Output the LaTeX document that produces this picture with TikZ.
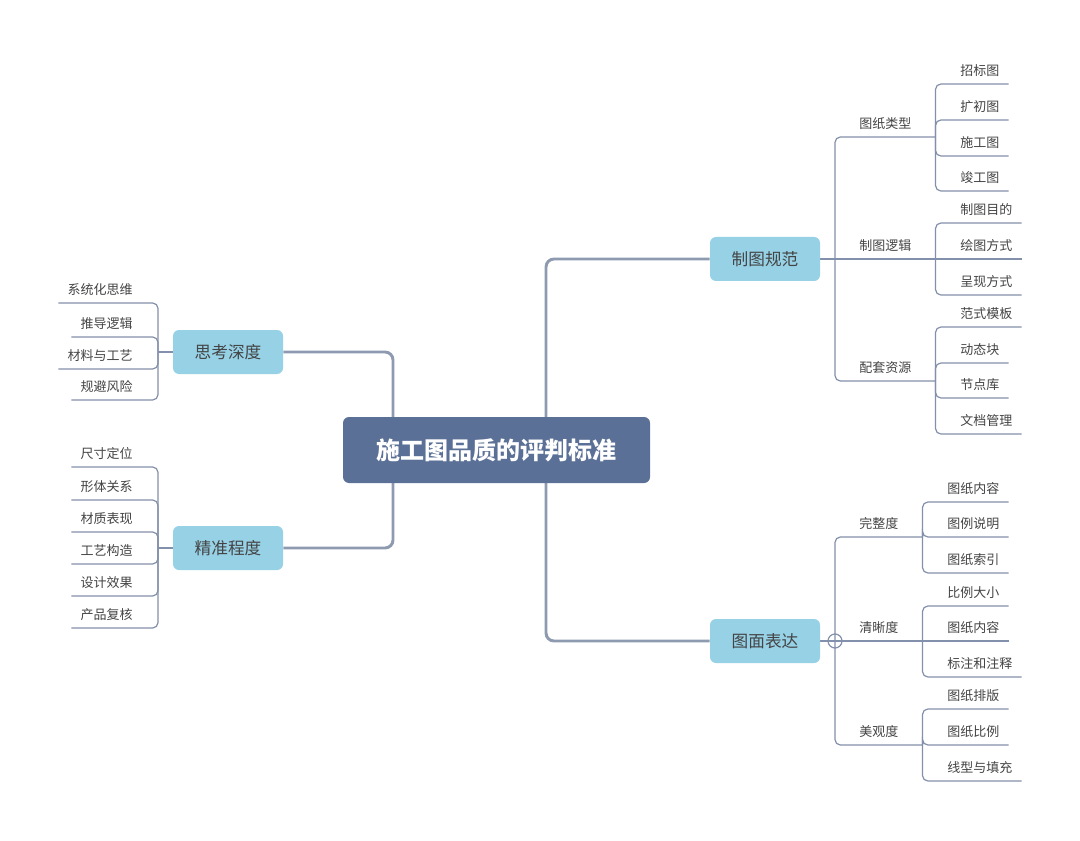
\documentclass[tikz,border=0pt]{standalone}
\usepackage{fontspec}
\setmainfont{Noto Sans CJK SC}
\usetikzlibrary{backgrounds}
\definecolor{mainfill}{HTML}{5B7096}
\definecolor{lonefill}{HTML}{96D1E6}
\definecolor{linec}{HTML}{8390AB}
\definecolor{mainline}{HTML}{8E9AB0}
\definecolor{txt}{HTML}{444444}
\begin{document}
\begin{tikzpicture}[x=0.75pt,y=-0.75pt,
 centralbox/.style={fill=mainfill, rounded corners=4.5pt, minimum width=230.25pt, minimum height=49.5pt, text=white, font=\fontsize{18}{20}\selectfont\bfseries, inner sep=0pt},
 topicbox/.style={fill=lonefill, rounded corners=4.5pt, minimum width=82.5pt, minimum height=33pt, text=txt, font=\fontsize{12.5}{14}\selectfont, inner sep=0pt},
 subtopic/.style={text=txt, font=\fontsize{9.75}{11}\selectfont, inner xsep=0pt, inner ysep=6.4pt, text depth=0pt, text height=7pt},
 subA/.style={subtopic, minimum width=75pt, anchor=south west},
 subB/.style={subtopic, minimum width=65.25pt, anchor=south west},
 leafR/.style={subtopic, inner xsep=6.75pt, anchor=south west},
 leafL/.style={subtopic, inner xsep=6.75pt, anchor=south east},
 thinline/.style={draw=linec, line width=0.9pt, rounded corners=4pt},
 mainconn/.style={draw=mainline, line width=2.2pt, rounded corners=6pt},
]
\path[use as bounding box] (0,0) rectangle (1080,841);

% central and main topics
\node[centralbox] (c) at (496.5,450) {施工图品质的评判标准};
\node[topicbox] (zt) at (765,259) {制图规范};
\node[topicbox] (tm) at (765,641) {图面表达};
\node[topicbox] (sk) at (228,352) {思考深度};
\node[topicbox] (jz) at (228,548) {精准程度};

\coordinate (cr) at (546,450);
\coordinate (cl) at (393,450);
\coordinate (jzt) at (835,259);
\coordinate (jtm) at (835,641);
\coordinate (jsk) at (158,352);
\coordinate (jjz) at (158,548);

% sub topics (top right)
\node[subA] (a1) at (835,137) {图纸类型};
\node[subA] (a2) at (835,259) {制图逻辑};
\node[subA] (a3) at (835,381) {配套资源};
\node[leafR] (a11) at (951,84) {招标图};
\node[leafR] (a12) at (951,120) {扩初图};
\node[leafR] (a13) at (951,156) {施工图};
\node[leafR] (a14) at (951,191) {竣工图};
\node[leafR] (a21) at (951,223) {制图目的};
\node[leafR] (a22) at (951,259) {绘图方式};
\node[leafR] (a23) at (951,295) {呈现方式};
\node[leafR] (a31) at (951,327) {范式模板};
\node[leafR] (a32) at (951,363) {动态块};
\node[leafR] (a33) at (951,398) {节点库};
\node[leafR] (a34) at (951,434) {文档管理};

% sub topics (bottom right)
\node[subB] (b1) at (835,537) {完整度};
\node[subB] (b2) at (835,641) {清晰度};
\node[subB] (b3) at (835,745) {美观度};
\node[leafR] (b11) at (938,502) {图纸内容};
\node[leafR] (b12) at (938,537) {图例说明};
\node[leafR] (b13) at (938,573) {图纸索引};
\node[leafR] (b21) at (938,606) {比例大小};
\node[leafR] (b22) at (938,641) {图纸内容};
\node[leafR] (b23) at (938,677) {标注和注释};
\node[leafR] (b31) at (938,709) {图纸排版};
\node[leafR] (b32) at (938,745) {图纸比例};
\node[leafR] (b33) at (938,781) {线型与填充};

% left leaves
\node[leafL] (s1) at (142,303) {系统化思维};
\node[leafL] (s2) at (142,337) {推导逻辑};
\node[leafL] (s3) at (142,369) {材料与工艺};
\node[leafL] (s4) at (142,400) {规避风险};
\node[leafL] (p1) at (142,467) {尺寸定位};
\node[leafL] (p2) at (142,500) {形体关系};
\node[leafL] (p3) at (142,532) {材质表现};
\node[leafL] (p4) at (142,564) {工艺构造};
\node[leafL] (p5) at (142,596) {设计效果};
\node[leafL] (p6) at (142,628) {产品复核};

\begin{scope}[on background layer]
 \fill[white] (0,0) rectangle (1080,841);
 \draw[mainconn] (cr) |- (zt.west);
 \draw[mainconn] (cr) |- (tm.west);
 \draw[mainconn] (cl) |- (sk.east);
 \draw[mainconn] (cl) |- (jz.east);
 % top right
 \draw[thinline] (zt.east) -- (a2.south east);
 \foreach \n in {a1,a3} \draw[thinline] (jzt) |- (\n.south east);
 \foreach \n in {a11,a12,a13,a14} \draw[thinline] (a1.south east) |- (\n.south east);
 \foreach \n in {a21,a23} \draw[thinline] (a2.south east) |- (\n.south east);
 \draw[thinline] (a2.south east) -- (a22.south east);
 \foreach \n in {a31,a32,a33,a34} \draw[thinline] (a3.south east) |- (\n.south east);
 % bottom right
 \draw[thinline] (tm.east) -- (b2.south east);
 \foreach \n in {b1,b3} \draw[thinline] (jtm) |- (\n.south east);
 \foreach \n in {b11,b12,b13} \draw[thinline] (b1.south east) |- (\n.south east);
 \foreach \n in {b21,b23} \draw[thinline] (b2.south east) |- (\n.south east);
 \draw[thinline] (b2.south east) -- (b22.south east);
 \foreach \n in {b31,b32,b33} \draw[thinline] (b3.south east) |- (\n.south east);
 % left
 \draw[thinline] (sk.west) -- (jsk);
 \foreach \n in {s1,s2,s3,s4} \draw[thinline] (jsk) |- (\n.south west);
 \draw[thinline] (jz.west) -- (jjz);
 \foreach \n in {p1,p2,p3,p4,p5,p6} \draw[thinline] (jjz) |- (\n.south west);
\end{scope}

\node[circle, draw=linec, line width=0.9pt, minimum size=10.5pt, inner sep=0pt] (col) at (jtm) {};
\end{tikzpicture}
\end{document}
